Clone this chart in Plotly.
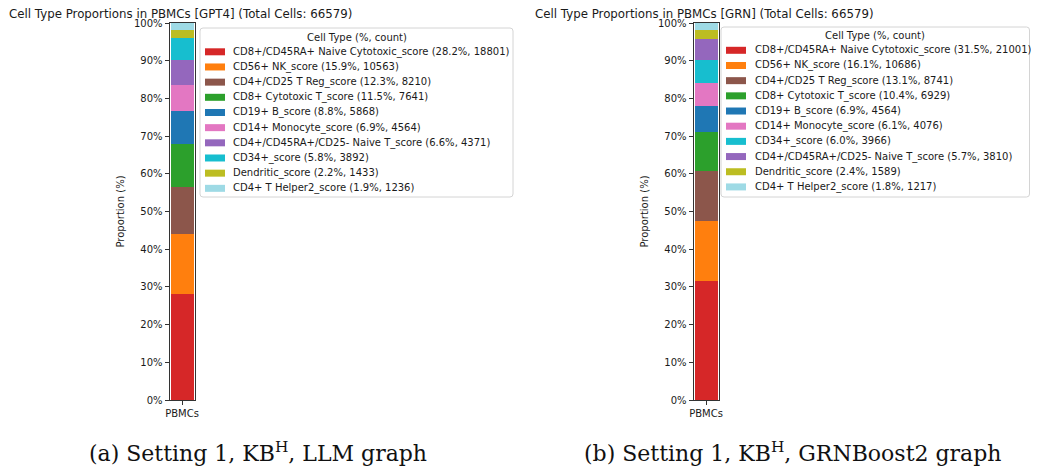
import plotly.graph_objects as go

OFF = 8  # default page body margin (reference pixel -> figure pixel)
W, H = 1039, 468

cell_types_a = [
    "CD8+/CD45RA+ Naive Cytotoxic_score", "CD56+ NK_score", "CD4+/CD25 T Reg_score",
    "CD8+ Cytotoxic T_score", "CD19+ B_score", "CD14+ Monocyte_score",
    "CD4+/CD45RA+/CD25- Naive T_score", "CD34+_score", "Dendritic_score", "CD4+ T Helper2_score",
]
counts_a = [18801, 10563, 8210, 7641, 5868, 4564, 4371, 3892, 1433, 1236]

cell_types_b = [
    "CD8+/CD45RA+ Naive Cytotoxic_score", "CD56+ NK_score", "CD4+/CD25 T Reg_score",
    "CD8+ Cytotoxic T_score", "CD19+ B_score", "CD14+ Monocyte_score",
    "CD34+_score", "CD4+/CD45RA+/CD25- Naive T_score", "Dendritic_score", "CD4+ T Helper2_score",
]
counts_b = [21001, 10686, 8741, 6929, 4564, 4076, 3966, 3810, 1589, 1217]

total_cells = 66579
category = ["PBMCs"]
y_ticks = [0, 10, 20, 30, 40, 50, 60, 70, 80, 90, 100]
y_tick_labels = [f"{v}%" for v in y_ticks]
titles = ["Cell Type Proportions in PBMCs [GPT4] (Total Cells: 66579)",
          "Cell Type Proportions in PBMCs [GRN] (Total Cells: 66579)"]
captions = ["(a) Setting 1, KB<sup>H</sup>, LLM graph",
            "(b) Setting 1, KB<sup>H</sup>, GRNBoost2 graph"]
legend_title = "Cell Type (%, count)"

colors = {
    "CD8+/CD45RA+ Naive Cytotoxic_score": "#d62728",
    "CD56+ NK_score": "#ff7f0e",
    "CD4+/CD25 T Reg_score": "#8c564b",
    "CD8+ Cytotoxic T_score": "#2ca02c",
    "CD19+ B_score": "#1f77b4",
    "CD14+ Monocyte_score": "#e377c2",
    "CD4+/CD45RA+/CD25- Naive T_score": "#9467bd",
    "CD34+_score": "#17becf",
    "Dendritic_score": "#bcbd22",
    "CD4+ T Helper2_score": "#9edae5",
}

FONT = "DejaVu Sans"
TXT = "#1a1a1a"
fig = go.Figure()


def px_x(p):
    return (p - OFF) / W


def px_y(p):
    return 1 - (p - OFF) / H


def add_panel(types, counts, xa, ya):
    for t, c in zip(types, counts):
        pct = c / total_cells * 100
        fig.add_trace(go.Bar(
            x=category, y=[pct], name=f"{t} ({pct:.1f}%, {c})",
            marker=dict(color=colors[t], line=dict(width=0)),
            width=0.92, xaxis=xa, yaxis=ya, showlegend=False,
        ))


add_panel(cell_types_a, counts_a, "x", "y")
add_panel(cell_types_b, counts_b, "x2", "y2")

ydom = [px_y(400), px_y(23)]
axis_common = dict(showline=True, mirror=True, linecolor="#333", linewidth=1,
                   ticks="outside", ticklen=4, tickcolor="#333", showgrid=False,
                   tickfont=dict(family=FONT, size=10, color=TXT), zeroline=False,
                   fixedrange=True, automargin=False)
ytitle = dict(text="Proportion (%)", standoff=7, font=dict(family=FONT, size=10, color=TXT))

fig.update_layout(
    width=W, height=H, autosize=False, margin=dict(l=0, r=0, t=0, b=0, pad=0),
    paper_bgcolor="white", plot_bgcolor="white",
    barmode="stack", bargap=0, showlegend=False,
    xaxis=dict(domain=[px_x(169.5), px_x(194.5)], range=[-0.5, 0.5], anchor="y", **axis_common),
    xaxis2=dict(domain=[px_x(693.5), px_x(718.5)], range=[-0.5, 0.5], anchor="y2", **axis_common),
    yaxis=dict(domain=ydom, range=[0, 100], tickvals=y_ticks, ticktext=y_tick_labels,
               anchor="x", title=ytitle, **axis_common),
    yaxis2=dict(domain=ydom, range=[0, 100], tickvals=y_ticks, ticktext=y_tick_labels,
                anchor="x2", title=ytitle, **axis_common),
)

# panel titles
for text, tx, ty in zip(titles, [7, 533], [14.5, 14]):
    fig.add_annotation(text=text, x=px_x(tx), y=px_y(ty), xref="paper", yref="paper",
                       xanchor="left", yanchor="middle", showarrow=False,
                       font=dict(family=FONT, size=11.8, color=TXT))


def rounded_rect(x0, y0, x1, y1, r=3):
    X = lambda p: px_x(p)
    Y = lambda p: px_y(p)
    return (f"M{X(x0 + r)},{Y(y0)} L{X(x1 - r)},{Y(y0)} Q{X(x1)},{Y(y0)} {X(x1)},{Y(y0 + r)} "
            f"L{X(x1)},{Y(y1 - r)} Q{X(x1)},{Y(y1)} {X(x1 - r)},{Y(y1)} "
            f"L{X(x0 + r)},{Y(y1)} Q{X(x0)},{Y(y1)} {X(x0)},{Y(y1 - r)} "
            f"L{X(x0)},{Y(y0 + r)} Q{X(x0)},{Y(y0)} {X(x0 + r)},{Y(y0)} Z")


# legends (box geometry in reference pixels)
legends = [
    dict(types=cell_types_a, counts=counts_a, box=(200, 28, 513, 197), title_y=37,
         first_y=51.8, step=15.17, sw_x=(205, 225), text_x=231),
    dict(types=cell_types_b, counts=counts_b, box=(721, 27, 1029.5, 197), title_y=35.5,
         first_y=50.3, step=15.18, sw_x=(726, 746), text_x=752.5),
]
for lg in legends:
    x0, y0, x1, y1 = lg["box"]
    fig.add_shape(type="path", path=rounded_rect(x0, y0, x1, y1), xref="paper", yref="paper",
                  line=dict(color="#d4d4d4", width=1), fillcolor="rgba(255,255,255,0.8)")
    fig.add_annotation(text=legend_title, x=px_x((x0 + x1) / 2), y=px_y(lg["title_y"]),
                       xref="paper", yref="paper", xanchor="center", yanchor="middle",
                       showarrow=False, font=dict(family=FONT, size=10, color=TXT))
    for i, (t, c) in enumerate(zip(lg["types"], lg["counts"])):
        yc = lg["first_y"] + i * lg["step"]
        pct = c / total_cells * 100
        fig.add_shape(type="rect", xref="paper", yref="paper",
                      x0=px_x(lg["sw_x"][0]), x1=px_x(lg["sw_x"][1]),
                      y0=px_y(yc - 3.5), y1=px_y(yc + 3.5),
                      fillcolor=colors[t], line=dict(width=0))
        fig.add_annotation(text=f"{t} ({pct:.1f}%, {c})", x=px_x(lg["text_x"]), y=px_y(yc),
                           xref="paper", yref="paper", xanchor="left", yanchor="middle",
                           showarrow=False, font=dict(family=FONT, size=10, color=TXT))

# captions
for text, cx in zip(captions, [257.5, 792.5]):
    fig.add_annotation(text=text, x=px_x(cx), y=px_y(452), xref="paper", yref="paper",
                       xanchor="center", yanchor="middle", showarrow=False,
                       font=dict(family="DejaVu Serif", size=22, color="#111"))

fig.write_html("out.html")
